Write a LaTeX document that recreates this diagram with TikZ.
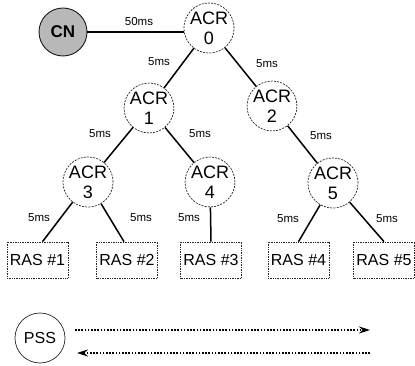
\documentclass[tikz,border=0pt]{standalone}
\usepackage{fontspec}
\setmainfont{Liberation Sans}
\usetikzlibrary{arrows.meta}
\begin{document}
\begin{tikzpicture}[x=1pt,y={(0pt,-1pt)},
  acr/.style={circle,draw=black!85,dash pattern=on 2pt off 1.2pt,line width=0.7pt,
    minimum size=49pt,inner sep=0pt,align=center,font=\fontsize{18}{20}\selectfont},
  cnnode/.style={circle,draw=black!90,line width=0.9pt,fill=black!28,minimum size=48pt,
    inner sep=0pt,font=\fontsize{17}{19}\selectfont\bfseries},
  pssnode/.style={circle,draw=black!85,line width=0.7pt,minimum size=50pt,inner sep=0pt,
    font=\fontsize{16}{18}\selectfont},
  ras/.style={rectangle,draw=black!85,densely dotted,line width=0.7pt,minimum width=61pt,
    minimum height=36pt,inner sep=0pt,font=\fontsize{16}{18}\selectfont},
  link/.style={line width=1.5pt,black},
  lbl/.style={inner sep=0pt,font=\fontsize{11.5}{13}\selectfont},
  msg/.style={line width=1.4pt,dash pattern=on 1.6pt off 1.6pt,
    -{Stealth[length=11pt,width=7pt]}}
]
\useasboundingbox (0,0) rectangle (415,366);

% nodes
\node[cnnode] (CN) at (63,32) {CN};
\node[acr] (A0) at (209,28) {ACR\\0};
\node[acr] (A1) at (149,108) {ACR\\1};
\node[acr] (A2) at (272,106) {ACR\\2};
\node[acr] (A3) at (88,182) {ACR\\3};
\node[acr] (A4) at (210,182) {ACR\\4};
\node[acr] (A5) at (333,183) {ACR\\5};

\node[ras] (R1) at (37.5,260) {RAS \#1};
\node[ras] (R2) at (127,260) {RAS \#2};
\node[ras] (R3) at (211,260) {RAS \#3};
\node[ras] (R4) at (298.5,260) {RAS \#4};
\node[ras] (R5) at (384,260) {RAS \#5};

\node[pssnode] (PSS) at (40,338) {PSS};

% connectors
\draw[link] (CN.east) -- (CN.east -| A0.west);
\draw[link] (A0) -- (A1);
\draw[link] (A0) -- (A2);
\draw[link] (A1) -- (A3);
\draw[link] (A1) -- (A4);
\draw[link] (A2) -- (A5);
\draw[link] (A3) -- ([xshift=5pt]R1.north);
\draw[link] (A3) -- ([xshift=-3pt]R2.north);
\draw[link] (A4) -- (R3.north);
\draw[link] (A5) -- (R4.north);
\draw[link] (A5) -- (R5.north);

% labels
\node[lbl] (l0) at (139,22) {50ms};
\node[lbl] (l1) at (159,62) {5ms};
\node[lbl] (l2) at (267,64) {5ms};
\node[lbl] (l3) at (100,134) {5ms};
\node[lbl] (l4) at (200,134) {5ms};
\node[lbl] (l5) at (321,136) {5ms};
\node[lbl] (l6) at (39,218) {5ms};
\node[lbl] (l7) at (141,218) {5ms};
\node[lbl] (l8) at (189,218) {5ms};
\node[lbl] (l9) at (288,219) {5ms};
\node[lbl] (l10) at (387,219) {5ms};

% message arrows
\coordinate (m1s) at (75,330);
\coordinate (m1e) at (370,330);
\coordinate (m2s) at (370,353);
\coordinate (m2e) at (77,353);
\draw[msg] (m1s) -- (m1e);
\draw[msg] (m2s) -- (m2e);
\end{tikzpicture}
\end{document}
